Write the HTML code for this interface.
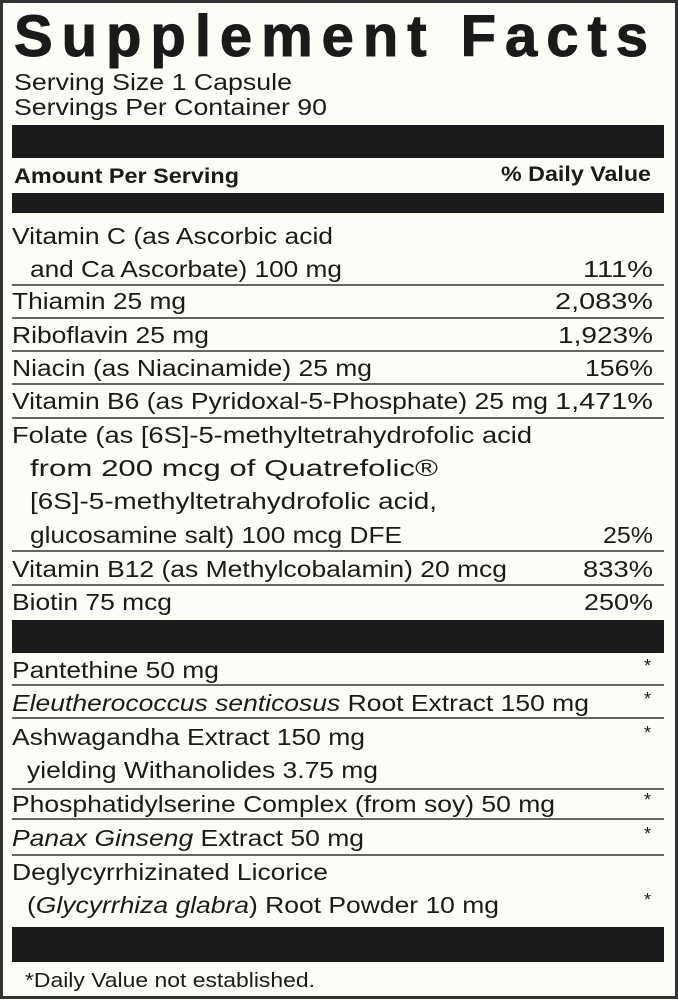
<!DOCTYPE html>
<html><head><meta charset="utf-8"><style>html,body{margin:0;padding:0;background:#fdfdf8}svg{display:block}</style></head><body>
<svg width="678" height="1000" viewBox="0 0 678 1000" xmlns="http://www.w3.org/2000/svg" font-family="Liberation Sans, Arial, sans-serif" fill="#1a1a1a">
<rect x="0" y="0" width="678" height="1000" fill="#fdfdf8"/>
<rect x="1.5" y="1.5" width="675" height="996" fill="none" stroke="#333" stroke-width="3"/>
<text x="14" y="56" font-size="58" font-weight="bold" stroke="#1a1a1a" stroke-width="1" textLength="634" lengthAdjust="spacing">Supplement Facts</text>
<g font-size="23.5">
<text x="14" y="90" textLength="278" lengthAdjust="spacingAndGlyphs">Serving Size 1 Capsule</text>
<text x="14" y="115" textLength="313" lengthAdjust="spacingAndGlyphs">Servings Per Container 90</text>
</g>
<rect x="12" y="125" width="652" height="33" fill="#1c1a1b"/>
<g font-size="21" font-weight="bold">
<text x="14" y="183" textLength="225" lengthAdjust="spacingAndGlyphs">Amount Per Serving</text>
<text x="501" y="181" textLength="150" lengthAdjust="spacingAndGlyphs">% Daily Value</text>
</g>
<rect x="12" y="193" width="652" height="20" fill="#1c1a1b"/>
<g stroke="#333" stroke-width="1.5">
<line x1="12" y1="285" x2="664" y2="285"/>
<line x1="12" y1="318" x2="664" y2="318"/>
<line x1="12" y1="351" x2="664" y2="351"/>
<line x1="12" y1="384" x2="664" y2="384"/>
<line x1="12" y1="418" x2="664" y2="418"/>
<line x1="12" y1="551" x2="664" y2="551"/>
<line x1="12" y1="585" x2="664" y2="585"/>
<line x1="12" y1="685" x2="664" y2="685"/>
<line x1="12" y1="718" x2="664" y2="718"/>
<line x1="12" y1="789" x2="664" y2="789"/>
<line x1="12" y1="819" x2="664" y2="819"/>
<line x1="12" y1="855" x2="664" y2="855"/>
</g>
<g font-size="23.5">
<text x="12" y="244" textLength="321" lengthAdjust="spacingAndGlyphs">Vitamin C (as Ascorbic acid</text>
<text x="30" y="277" textLength="312" lengthAdjust="spacingAndGlyphs">and Ca Ascorbate) 100 mg</text>
<text x="583" y="277" textLength="70" lengthAdjust="spacingAndGlyphs">111%</text>
<text x="12" y="309" textLength="174" lengthAdjust="spacingAndGlyphs">Thiamin 25 mg</text>
<text x="555" y="309" textLength="98" lengthAdjust="spacingAndGlyphs">2,083%</text>
<text x="12" y="343" textLength="197" lengthAdjust="spacingAndGlyphs">Riboflavin 25 mg</text>
<text x="558" y="343" textLength="95" lengthAdjust="spacingAndGlyphs">1,923%</text>
<text x="12" y="376" textLength="360" lengthAdjust="spacingAndGlyphs">Niacin (as Niacinamide) 25 mg</text>
<text x="585" y="376" textLength="68" lengthAdjust="spacingAndGlyphs">156%</text>
<text x="12" y="409" textLength="536" lengthAdjust="spacingAndGlyphs">Vitamin B6 (as Pyridoxal-5-Phosphate) 25 mg</text>
<text x="555" y="409" textLength="98" lengthAdjust="spacingAndGlyphs">1,471%</text>
<text x="12" y="443" textLength="520" lengthAdjust="spacingAndGlyphs">Folate (as [6S]-5-methyltetrahydrofolic acid</text>
<text x="30" y="476" textLength="408" lengthAdjust="spacingAndGlyphs">from 200 mcg of  Quatrefolic®</text>
<text x="30" y="509" textLength="407" lengthAdjust="spacingAndGlyphs">[6S]-5-methyltetrahydrofolic acid,</text>
<text x="30" y="543" textLength="372" lengthAdjust="spacingAndGlyphs">glucosamine salt) 100 mcg DFE</text>
<text x="603" y="543" textLength="50" lengthAdjust="spacingAndGlyphs">25%</text>
<text x="12" y="577" textLength="495" lengthAdjust="spacingAndGlyphs">Vitamin B12 (as Methylcobalamin) 20 mcg</text>
<text x="583" y="577" textLength="70" lengthAdjust="spacingAndGlyphs">833%</text>
<text x="12" y="610" textLength="160" lengthAdjust="spacingAndGlyphs">Biotin 75 mcg</text>
<text x="584" y="610" textLength="69" lengthAdjust="spacingAndGlyphs">250%</text>
</g>
<rect x="12" y="620" width="652" height="33" fill="#1c1a1b"/>
<g font-size="23.5">
<text x="12" y="678" textLength="207" lengthAdjust="spacingAndGlyphs">Pantethine 50 mg</text>
<text x="12" y="711" textLength="577" lengthAdjust="spacingAndGlyphs"><tspan font-style="italic">Eleutherococcus senticosus</tspan> Root Extract 150 mg</text>
<text x="12" y="745" textLength="353" lengthAdjust="spacingAndGlyphs">Ashwagandha Extract 150 mg</text>
<text x="27" y="778" textLength="351" lengthAdjust="spacingAndGlyphs">yielding Withanolides 3.75 mg</text>
<text x="12" y="812" textLength="543" lengthAdjust="spacingAndGlyphs">Phosphatidylserine Complex (from soy) 50 mg</text>
<text x="12" y="846" textLength="352" lengthAdjust="spacingAndGlyphs"><tspan font-style="italic">Panax Ginseng</tspan> Extract 50 mg</text>
<text x="12" y="880" textLength="316" lengthAdjust="spacingAndGlyphs">Deglycyrrhizinated Licorice</text>
<text x="27" y="913" textLength="472" lengthAdjust="spacingAndGlyphs">(<tspan font-style="italic">Glycyrrhiza glabra</tspan>) Root Powder 10 mg</text>
</g>
<g font-size="18">
<text x="644" y="672">*</text>
<text x="644" y="705">*</text>
<text x="644" y="739">*</text>
<text x="644" y="806">*</text>
<text x="644" y="840">*</text>
<text x="644" y="906">*</text>
</g>
<rect x="12" y="927" width="652" height="35" fill="#1c1a1b"/>
<text x="25" y="987" font-size="20" textLength="290" lengthAdjust="spacingAndGlyphs">*Daily Value not established.</text>
</svg>
</body></html>
